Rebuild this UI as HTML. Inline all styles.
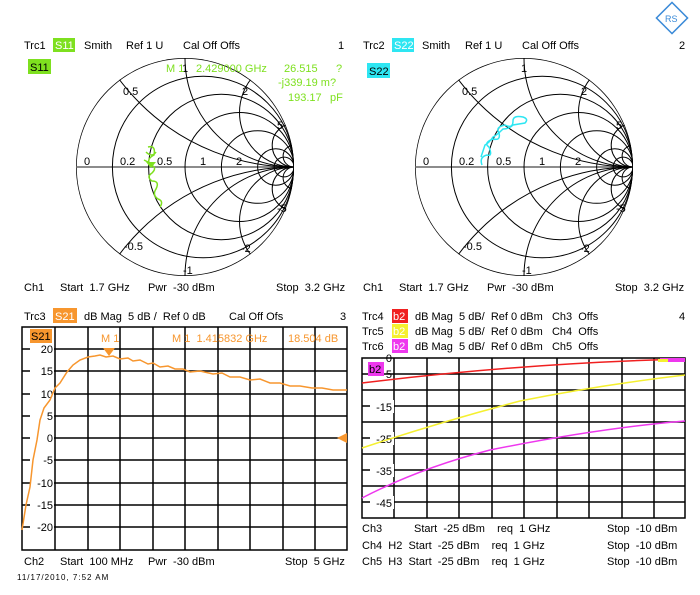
<!DOCTYPE html>
<html><head><meta charset="utf-8"><style>
html,body{margin:0;padding:0;background:#fff;}
svg{display:block;font-family:"Liberation Sans",Arial,sans-serif;font-size:11px;white-space:pre;}
text{white-space:pre;}
</style></head><body>
<svg width="700" height="595" viewBox="0 0 700 595" xmlns="http://www.w3.org/2000/svg" xml:space="preserve">
<defs>
<clipPath id="c1"><circle cx="185" cy="167" r="109"/></clipPath>
<clipPath id="c2"><circle cx="524" cy="167" r="109"/></clipPath>
<g id="smith" fill="none" stroke="#000" stroke-width="1">
 <circle cx="0" cy="0" r="109" stroke-width="1.5"/>
 <line x1="-109" y1="0" x2="109" y2="0" stroke="#666" stroke-width="1.5"/>
 <circle cx="18.2" cy="0" r="90.8"/>
 <circle cx="36.3" cy="0" r="72.7"/>
 <circle cx="54.5" cy="0" r="54.5"/>
 <circle cx="72.7" cy="0" r="36.3"/>
 <circle cx="90.8" cy="0" r="18.2"/>
 <circle cx="99.1" cy="0" r="9.9"/>
 <circle cx="109" cy="-218" r="218"/><circle cx="109" cy="218" r="218"/>
 <circle cx="109" cy="-109" r="109"/><circle cx="109" cy="109" r="109"/>
 <circle cx="109" cy="-54.5" r="54.5"/><circle cx="109" cy="54.5" r="54.5"/>
 <circle cx="109" cy="-21.8" r="21.8"/><circle cx="109" cy="21.8" r="21.8"/>
 <circle cx="109" cy="-10.9" r="10.9"/><circle cx="109" cy="10.9" r="10.9"/>
</g>
</defs>

<!-- logo -->
<g transform="translate(672,18) rotate(45)" fill="none" stroke="#3a8ad8" stroke-width="1.5"><rect x="-11" y="-11" width="22" height="22"/></g>
<text x="665" y="22" fill="#3a8ad8" font-size="9">RS</text>

<!-- Chart 1 -->
<text x="24" y="49">Trc1</text>
<rect x="53" y="38" width="22" height="14" fill="#7ee01f"/><text x="55" y="49" fill="#fff">S11</text>
<text x="84" y="49">Smith</text><text x="126" y="49">Ref 1 U</text><text x="183" y="49">Cal Off Offs</text><text x="338" y="49">1</text>
<rect x="28" y="59" width="23" height="15" fill="#7ee01f"/><text x="30" y="71" fill="#000">S11</text>
<g clip-path="url(#c1)"><use href="#smith" transform="translate(185,167)"/></g>
<g font-size="11"><text x="182" y="72">1</text><text x="123" y="95">0.5</text><text x="242" y="95">2</text><text x="277" y="129">5</text>
<text x="84" y="165">0</text><text x="120" y="165">0.2</text><text x="157" y="165">0.5</text><text x="200" y="165">1</text><text x="236" y="165">2</text>
<text x="277" y="212">-5</text><text x="241" y="252">-2</text><text x="124" y="250">-0.5</text><text x="183" y="274">-1</text></g>
<g fill="#7ee01f"><text x="166" y="72">M 1</text><text x="196" y="72">2.429000 GHz</text><text x="284" y="72">26.515</text><text x="336" y="72">?</text>
<text x="278" y="86">-j339.19 m?</text><text x="288" y="101">193.17</text><text x="330" y="101">pF</text></g>
<path d="M148,147 q8,-2 6,8 q-8,4 -4,10 q8,2 2,8 q-6,4 0,8 q8,0 4,8 q-4,6 2,10 q6,2 2,8 M146,152 q6,6 10,0 M144,160 l8,4" fill="none" stroke="#7ee01f" stroke-width="1.5"/>
<path d="M146,162 l10,0 l-5,6 z" fill="#7ee01f"/>
<text x="24" y="291">Ch1</text><text x="60" y="291">Start  1.7 GHz</text><text x="148" y="291">Pwr  -30 dBm</text><text x="276" y="291">Stop  3.2 GHz</text>

<!-- Chart 2 -->
<text x="363" y="49">Trc2</text>
<rect x="392" y="38" width="22" height="14" fill="#2ee6f2"/><text x="394" y="49" fill="#fff">S22</text>
<text x="422" y="49">Smith</text><text x="465" y="49">Ref 1 U</text><text x="522" y="49">Cal Off Offs</text><text x="679" y="49">2</text>
<rect x="367" y="63" width="23" height="15" fill="#2ee6f2"/><text x="369" y="75" fill="#000">S22</text>
<g clip-path="url(#c2)"><use href="#smith" transform="translate(524,167)"/></g>
<g font-size="11"><text x="521" y="72">1</text><text x="462" y="95">0.5</text><text x="581" y="95">2</text><text x="616" y="129">5</text>
<text x="423" y="165">0</text><text x="459" y="165">0.2</text><text x="496" y="165">0.5</text><text x="539" y="165">1</text><text x="575" y="165">2</text>
<text x="616" y="212">-5</text><text x="580" y="252">-2</text><text x="463" y="250">-0.5</text><text x="522" y="274">-1</text></g>
<path d="M482,165 q-3,-8 5,-10 q6,2 2,-8 q-6,-4 4,-8 q8,2 6,-6 q-4,-6 6,-8 q8,4 8,-4 q0,-6 10,-4 q6,2 2,6 l-12,2 q-4,4 -10,4 q-6,6 -10,8 q-4,6 -8,8 q-2,6 -4,12" fill="none" stroke="#2ee6f2" stroke-width="1.5"/>
<text x="363" y="291">Ch1</text><text x="399" y="291">Start  1.7 GHz</text><text x="487" y="291">Pwr  -30 dBm</text><text x="615" y="291">Stop  3.2 GHz</text>

<!-- Chart 3 -->
<text x="24" y="320">Trc3</text>
<rect x="53" y="308" width="24" height="15" fill="#f7962e"/><text x="55" y="320" fill="#fff">S21</text>
<text x="84" y="320">dB Mag  5 dB /  Ref 0 dB</text><text x="229" y="320">Cal Off Ofs</text><text x="340" y="320">3</text>
<g stroke="#000" stroke-width="1.5" fill="none">
<rect x="22" y="327" width="325" height="223"/>
<path d="M55,327V550M88,327V550M120,327V550M153,327V550M185,327V550M218,327V550M250,327V550M283,327V550M315,327V550"/>
<path d="M22,349H347M22,371H347M22,394H347M22,416H347M22,438H347M22,460H347M22,483H347M22,505H347M22,527H347"/>
</g>
<g fill="#fff"><rect x="30" y="343" width="24" height="13"/><rect x="30" y="365" width="24" height="13"/><rect x="30" y="388" width="24" height="13"/><rect x="30" y="410" width="24" height="13"/><rect x="30" y="432" width="24" height="13"/><rect x="30" y="454" width="24" height="13"/><rect x="30" y="477" width="24" height="13"/><rect x="30" y="499" width="24" height="13"/><rect x="30" y="521" width="24" height="13"/></g>
<g text-anchor="end"><text x="53" y="353">20</text><text x="53" y="375">15</text><text x="53" y="398">10</text><text x="53" y="420">5</text><text x="53" y="442">0</text><text x="53" y="464">-5</text><text x="53" y="487">-10</text><text x="53" y="509">-15</text><text x="53" y="531">-20</text></g>
<rect x="30" y="329" width="22" height="14" fill="#f7962e"/><text x="31" y="340" fill="#000">S21</text>
<path d="M22,530 L26,505 L30,487 L33,460 L37,440 L40,420 L44,408 L50,400 L55,388 L60,383 L67,372 L73,365 L80,360 L88,357 L95,356 L100,355 L106,357 L113,356 L120,359 L128,358 L133,361 L140,360 L148,364 L153,363 L160,367 L168,366 L175,369 L183,369 L190,372 L200,371 L213,374 L222,373 L230,377 L240,377 L250,380 L260,379 L270,383 L280,383 L290,386 L300,386 L312,388 L322,388 L333,390 L347,390" fill="none" stroke="#f7962e" stroke-width="1.5"/>
<path d="M103,348 l12,0 l-6,8 z" fill="#f7962e"/>
<g fill="#f7962e"><text x="101" y="342">M 1</text><text x="172" y="342">M 1  1.415832 GHz</text><text x="288" y="342">18.504 dB</text></g>
<path d="M347,433 l-10,5 l10,5 z" fill="#f7962e"/>
<text x="24" y="565">Ch2</text><text x="60" y="565">Start  100 MHz</text><text x="148" y="565">Pwr  -30 dBm</text><text x="285" y="565">Stop  5 GHz</text>
<text x="17" y="580" font-size="8" letter-spacing="1">11/17/2010, 7:52 AM</text>

<!-- Chart 4 -->
<text x="362" y="320">Trc4</text><rect x="392" y="309" width="16" height="14" fill="#f02020"/><text x="393" y="320" fill="#fff">b2</text>
<text x="415" y="320">dB Mag  5 dB/  Ref 0 dBm   Ch3  Offs</text><text x="679" y="320">4</text>
<text x="362" y="335">Trc5</text><rect x="392" y="324" width="16" height="14" fill="#f5f030"/><text x="393" y="335" fill="#fff">b2</text>
<text x="415" y="335">dB Mag  5 dB/  Ref 0 dBm   Ch4  Offs</text>
<text x="362" y="350">Trc6</text><rect x="392" y="339" width="16" height="14" fill="#ee38ee"/><text x="393" y="350" fill="#fff">b2</text>
<text x="415" y="350">dB Mag  5 dB/  Ref 0 dBm   Ch5  Offs</text>
<g stroke="#000" stroke-width="1.5" fill="none">
<rect x="362" y="358" width="323" height="160"/>
<path d="M394,358V518M427,358V518M459,358V518M492,358V518M524,358V518M557,358V518M589,358V518M622,358V518M654,358V518"/>
<path d="M362,374H685M362,390H685M362,406H685M362,422H685M362,438H685M362,454H685M362,470H685M362,486H685M362,502H685"/>
</g>
<g fill="#fff"><rect x="370" y="400" width="24" height="13"/><rect x="370" y="432" width="24" height="13"/><rect x="370" y="464" width="24" height="13"/><rect x="370" y="496" width="24" height="13"/></g>
<g text-anchor="end"><text x="392" y="362">0</text><text x="392" y="378">5</text><text x="392" y="411">-15</text><text x="392" y="443">-25</text><text x="392" y="475">-35</text><text x="392" y="507">-45</text></g>
<rect x="368" y="362" width="16" height="14" fill="#ee38ee"/><text x="369" y="373" fill="#000">b2</text>
<path d="M362,383 Q524,363 685,359" fill="none" stroke="#f02020" stroke-width="1.5"/>
<path d="M362,448 Q440,422 520,401 Q600,385 685,375" fill="none" stroke="#f5f030" stroke-width="1.5"/>
<path d="M362,498 Q420,468 490,450 Q600,428 685,421" fill="none" stroke="#ee38ee" stroke-width="1.5"/>
<rect x="660" y="358" width="25" height="4" fill="#ee38ee"/><rect x="658" y="359" width="10" height="3" fill="#f5f030"/>
<text x="362" y="532">Ch3</text><text x="414" y="532">Start  -25 dBm    req  1 GHz</text><text x="607" y="532">Stop  -10 dBm</text>
<text x="362" y="549">Ch4  H2  Start  -25 dBm    req  1 GHz</text><text x="607" y="549">Stop  -10 dBm</text>
<text x="362" y="565">Ch5  H3  Start  -25 dBm    req  1 GHz</text><text x="607" y="565">Stop  -10 dBm</text>
</svg>
</body></html>
